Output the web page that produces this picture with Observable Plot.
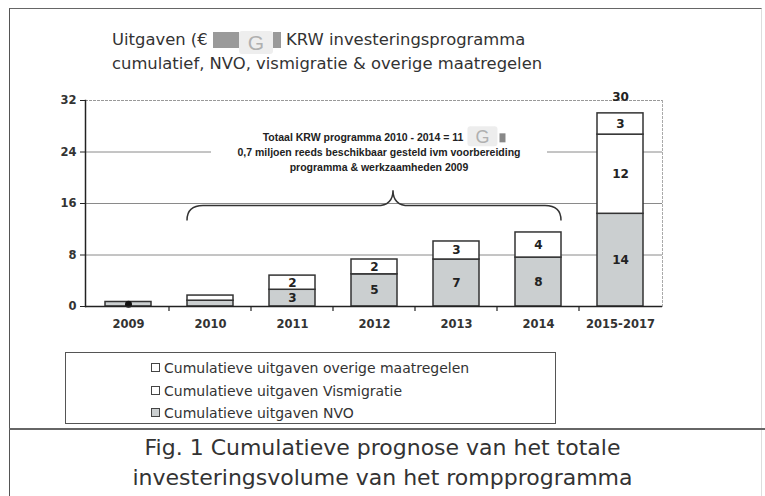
<!DOCTYPE html>
<html><head><meta charset="utf-8">
<script src="https://cdn.jsdelivr.net/npm/d3@7"></script>
<script src="https://cdn.jsdelivr.net/npm/@observablehq/plot@0.6"></script>
<style>
body{margin:0;background:#fff;}
#wrap{position:relative;width:765px;height:496px;overflow:hidden;font-family:"DejaVu Sans",Verdana,sans-serif;color:#333;background:#fff;}
#frame{position:absolute;left:9px;top:8px;width:751px;height:500px;border-left:1.5px solid #555;border-top:1.5px solid #666;border-right:1px solid #ddd;}
#divider{position:absolute;left:9px;top:428px;width:760px;border-top:2px solid #666;}
#title{position:absolute;left:112px;top:30px;font-size:16.4px;line-height:20px;white-space:nowrap;}
.redact{display:inline-block;background:#9a9a9a;height:16px;vertical-align:-3px;}
.gbox{display:inline-block;background:#eeeeee;color:#b0b0b0;border-radius:3px;font-family:"Liberation Sans",Arial,sans-serif;font-size:21px;line-height:23px;height:23px;width:34px;text-align:center;vertical-align:-5px;}
#chart{position:absolute;left:0;top:80px;}
#legend{position:absolute;left:65px;top:352px;width:489px;height:70px;border:1px solid #555;font-size:14px;background:#fff;}
.item{position:absolute;left:85px;line-height:16px;white-space:nowrap;}
.sw{display:inline-block;width:7px;height:7px;border:1.2px solid #444;margin-right:4px;vertical-align:1px;}
#caption{position:absolute;left:0;width:765px;top:433px;text-align:center;font-size:22px;line-height:30px;color:#333;}
</style></head>
<body>
<div id="wrap">
  <div id="frame"></div>
  <div id="title">Uitgaven (€ <span class="redact" style="width:26px"></span><span class="gbox">G</span><span class="redact" style="width:8px"></span> KRW investeringsprogramma<br>cumulatief, NVO, vismigratie &amp; overige maatregelen</div>
  <div id="chart"></div>
  <div id="legend"></div>
  <div id="divider"></div>
  <div id="caption">Fig. 1 Cumulatieve prognose van het totale<br>investeringsvolume van het rompprogramma</div>
</div>
<script>
const categories = ["2009","2010","2011","2012","2013","2014","2015-2017"];
const nvo         = [0.7, 0.9, 2.6, 5.0, 7.3, 7.6, 14.4];
const vismigratie = [0,   0.8, 2.2, 2.3, 2.8, 3.9, 12.3];
const overige     = [0,   0,   0,   0,   0,   0,   3.3];
const seriesNames = ["NVO","Vismigratie","Overige maatregelen"];
const legendLabels = ["Cumulatieve uitgaven overige maatregelen","Cumulatieve uitgaven Vismigratie","Cumulatieve uitgaven NVO"];
const yTicks = [0, 8, 16, 24, 32];
const gridValues = [8, 16, 24];
const labelFromIndex = 2;
const totalShown = ["2015-2017"];
const annotationLines = ["Totaal KRW programma 2010 - 2014 = 11","0,7 miljoen reeds beschikbaar gesteld ivm voorbereiding","programma & werkzaamheden 2009"];
const annotationY = [26.2, 23.9, 21.6];
const braceFrom = "2010", braceTo = "2014";
const braceY = {bottom: 13.3, middle: 15.6, tip: 18.0};

const fills = {"NVO":"#cbcfd0","Vismigratie":"#ffffff","Overige maatregelen":"#ffffff"};
const rows = [];
categories.forEach((c,i)=>{
  rows.push({cat:c, series:seriesNames[0], value:nvo[i]});
  rows.push({cat:c, series:seriesNames[1], value:vismigratie[i]});
  rows.push({cat:c, series:seriesNames[2], value:overige[i]});
});
const stacked = rows.filter(d=>d.value>0);
const totals = categories.map((c,i)=>({cat:c,total:nvo[i]+vismigratie[i]+overige[i]})).filter(d=>totalShown.includes(d.cat));

const plot = Plot.plot({
  width: 700, height: 260,
  marginLeft: 85, marginRight: 38, marginTop: 20, marginBottom: 34,
  style: {fontFamily:"'DejaVu Sans', Verdana, sans-serif", color:"#333", background:"transparent", overflow:"visible"},
  x: {domain: categories, paddingInner: 0.44, paddingOuter: 0.22, label: null},
  y: {domain:[0,32], label:null},
  color: {type:"identity"},
  marks: [
    Plot.ruleY(gridValues, {stroke:"#8a8a8a", strokeWidth:1}),
    Plot.frame({anchor:"top", stroke:"#999", strokeDasharray:"2,2"}),
    Plot.frame({anchor:"right", stroke:"#aaa", strokeDasharray:"2,2"}),
    Plot.barY(stacked, Plot.stackY({x:"cat", y:"value", fill: d=>fills[d.series], stroke:"#333", strokeWidth:1.5})),
    Plot.text(stacked, Plot.stackY({x:"cat", y:"value", text: d=> categories.indexOf(d.cat)>=labelFromIndex ? String(Math.round(d.value)) : "", fontWeight:"bold", fontSize:12, fill:"#222"})),
    Plot.dot(stacked.filter(d=>d.cat==="2009"), {x:"cat", y: d=>d.value/2, r:3.5, fill:"#111"}),
    Plot.text(totals, {x:"cat", text: d=>String(Math.round(d.total)), frameAnchor:"top", dy:-8, fontWeight:"bold", fontSize:12, fill:"#222"}),
    Plot.ruleY([0], {stroke:"#222", strokeWidth:1.5}),
    Plot.frame({anchor:"left", stroke:"#222", strokeWidth:1.5}),
    Plot.axisY({ticks: yTicks, tickSize:5, tickPadding:4, fontWeight:"bold", fontSize:11.5, stroke:"#222", label:null}),
    Plot.axisX({tickSize:0, tickPadding:13, fontWeight:"bold", fontSize:11.5, label:null})
  ]
});
document.getElementById("chart").appendChild(plot);

// annotation positioned through the plot's scales
const sx = plot.scale("x"), sy = plot.scale("y");
const X = v => sx.apply(v), Y = v => sy.apply(v);
const bw = sx.bandwidth, step = sx.step;
const svg = d3.select(plot);
const g = svg.append("g");
categories.slice(1).forEach(c=>{
  const bx = X(c) - (step - bw)/2;
  g.append("line").attr("x1",bx).attr("x2",bx).attr("y1",Y(0)).attr("y2",Y(0)+5).attr("stroke","#222").attr("stroke-width",1.2);
});
const xl = X(braceFrom), xr = X(braceTo) + bw, xc = (xl + xr)/2 + 19;
const tx = (xl + xr)/2 + 5;
g.append("rect").attr("x", tx-168).attr("y", Y(annotationY[0])-10).attr("width", 336).attr("height", Y(annotationY[2]) - Y(annotationY[0]) + 18).attr("fill","#fff");
const tg = g.append("g").attr("font-family","'Liberation Sans', Arial, sans-serif").attr("font-size",10.5).attr("fill","#222").attr("text-anchor","middle").attr("font-weight","bold");
annotationLines.forEach((t,i)=>{
  tg.append("text").attr("x", tx - (i===0?16:0)).attr("y", Y(annotationY[i])).attr("dy","0.35em").text(t);
});
const l1 = tg.select("text").node().getBBox();
g.append("rect").attr("x", l1.x+l1.width+4).attr("y", Y(annotationY[0])-11).attr("width",30).attr("height",20).attr("rx",3).attr("fill","#ececec").attr("opacity",0.93);
g.append("text").attr("x", l1.x+l1.width+19).attr("y", Y(annotationY[0])-1).attr("dy","0.35em").attr("text-anchor","middle").attr("font-family","'Liberation Sans', Arial, sans-serif").attr("font-size",18).attr("fill","#b0b0b0").text("G");
g.append("rect").attr("x", l1.x+l1.width+36).attr("y", Y(annotationY[0])-4).attr("width",6).attr("height",9).attr("fill","#888");
const yb = Y(braceY.bottom), ym = Y(braceY.middle), yt = Y(braceY.tip);
const p = `M${xl},${yb} Q${xl},${ym} ${xl+16},${ym} L${xc-16},${ym} Q${xc},${ym} ${xc},${yt} Q${xc},${ym} ${xc+16},${ym} L${xr-16},${ym} Q${xr},${ym} ${xr},${yb}`;
g.append("path").attr("d", p).attr("fill","none").attr("stroke","#333").attr("stroke-width",1.5);

// legend
const leg = d3.select("#legend");
const legFills = ["#ffffff","#ffffff","#cbcfd0"];
legendLabels.forEach((t,i)=>{
  const it = leg.append("div").attr("class","item").style("top", (7 + i*22.5) + "px");
  it.append("span").attr("class","sw").style("background", legFills[i]);
  it.append("span").text(t);
});
</script>
</body></html>
